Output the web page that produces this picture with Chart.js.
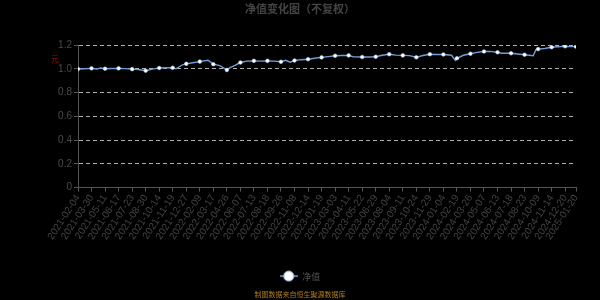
<!DOCTYPE html>
<html><head><meta charset="utf-8">
<script src="https://cdn.jsdelivr.net/npm/chart.js@4"></script>
<style>html,body{margin:0;padding:0;background:#000;}#wrap{width:600px;height:300px;}</style>
</head><body><div id="wrap"><canvas id="c" width="600" height="300"></canvas></div>
<script>
const tickLabels = ["2021-02-04","2021-03-30","2021-05-11","2021-06-17","2021-07-23","2021-08-30","2021-10-14","2021-11-19","2021-12-27","2022-02-09","2022-03-17","2022-04-26","2022-06-07","2022-07-13","2022-08-18","2022-09-26","2022-11-08","2022-12-14","2023-01-19","2023-03-03","2023-04-11","2023-05-22","2023-06-29","2023-08-04","2023-09-11","2023-10-24","2023-11-29","2024-01-04","2024-02-19","2024-03-26","2024-05-07","2024-06-13","2024-07-18","2024-08-23","2024-10-09","2024-11-14","2024-12-20","2025-01-20"];
const markerDay = [0,25,50,75,100,125,150,175,200,225,250,275,300,325,350,375,400,425,450,475,500,525,550,575,600,625,650,675,700,725,750,775,800,825,850,875,900,920];
const navDay = [0,12,25,35,42,50,62,75,88,100,112,125,140,150,162,175,181,193,200,212,225,240,250,262,275,280,290,300,312,325,337,350,362,375,383,392,400,412,425,437,450,462,475,487,500,508,525,537,550,562,575,587,600,612,625,637,650,662,675,690,697,700,712,725,737,750,762,775,782,800,812,825,841,846,850,862,875,887,900,910,920];
const navValue = [1.000,1.002,1.005,1.000,1.008,1.002,1.004,1.005,1.003,0.998,0.995,0.985,1.000,1.008,1.010,1.010,1.001,1.035,1.043,1.052,1.062,1.073,1.040,1.028,0.991,1.010,1.030,1.054,1.066,1.068,1.066,1.068,1.066,1.060,1.073,1.057,1.071,1.078,1.082,1.090,1.097,1.104,1.111,1.113,1.114,1.103,1.100,1.101,1.103,1.115,1.124,1.116,1.114,1.112,1.098,1.113,1.124,1.122,1.122,1.115,1.072,1.090,1.115,1.128,1.140,1.147,1.148,1.140,1.132,1.132,1.126,1.120,1.111,1.162,1.167,1.172,1.183,1.187,1.191,1.188,1.188];
const seriesName = "净值";
const titleText = "净值变化图（不复权）";
const footerText = "制图数据来自恒生聚源数据库";
const yAxisName = "元";

const lineColor = '#729dd6';
const points = navDay.map((d,i)=>({x:d, y:navValue[i]}));

// legend icon: line with a circle
const icon = document.createElement('canvas');
icon.width = 18; icon.height = 12;
(function(){
  const g = icon.getContext('2d');
  g.strokeStyle = lineColor; g.lineWidth = 1.5;
  g.beginPath(); g.moveTo(0,6); g.lineTo(18,6); g.stroke();
  g.beginPath(); g.arc(9,6,5,0,Math.PI*2);
  g.fillStyle = '#fff'; g.fill();
  g.strokeStyle = '#a9c6ee'; g.lineWidth = 1; g.stroke();
})();

const yNamePlugin = {
  id: 'yName',
  afterDraw(chart){
    const ctx = chart.ctx; const a = chart.chartArea;
    ctx.save();
    ctx.fillStyle = '#a01010';
    ctx.font = '8px "Noto Sans CJK SC"';
    ctx.textAlign = 'center'; ctx.textBaseline = 'middle';
    ctx.fillText(yAxisName, a.left - 23, a.top + 14);
    ctx.restore();
  }
};

new Chart(document.getElementById('c'), {
  type: 'line',
  data: { datasets: [{
    label: seriesName,
    data: points,
    borderColor: lineColor,
    borderWidth: 1.4,
    tension: 0,
    pointRadius: ctx => markerDay.includes(ctx.raw && ctx.raw.x) ? 1.8 : 0,
    pointHoverRadius: 0,
    pointBackgroundColor: '#ffffff',
    pointBorderColor: '#c8dbf5',
    pointBorderWidth: 0.6
  }]},
  options: {
    responsive: false,
    animation: false,
    layout: { padding: { left: 0, right: 0, top: 0, bottom: 0 } },
    plugins: {
      title: { display: true, text: titleText, color: '#444', font: { family: '"Noto Sans CJK SC"', size: 11, weight: 'bold' }, padding: { top: 2, bottom: 30 } },
      subtitle: { display: true, position: 'bottom', text: footerText, color: '#b07d1a', font: { family: '"Noto Sans CJK SC"', size: 7 }, padding: { top: 0, bottom: 1 } },
      legend: { display: true, position: 'bottom',
        labels: { color: '#555', font: { family: '"Noto Sans CJK SC"', size: 9 }, usePointStyle: true, pointStyleWidth: 18, boxHeight: 12, padding: 6,
          generateLabels: (chart) => [{ text: seriesName, pointStyle: icon, fontColor: '#555', strokeStyle: lineColor, fillStyle: '#fff', lineWidth: 0, hidden: false, datasetIndex: 0 }] } },
      tooltip: { enabled: false }
    },
    scales: {
      x: {
        type: 'linear', min: 0, max: 920,
        afterBuildTicks: s => { s.ticks = markerDay.map(v => ({ value: v })); },
        afterFit: s => { s.height = 78; },
        ticks: { autoSkip: false, minRotation: 57, maxRotation: 57, color: '#444', font: { family: '"Liberation Sans"', size: 10 }, padding: 1,
          callback: (v, i) => tickLabels[i] },
        grid: { drawOnChartArea: false, drawTicks: true, tickLength: 4, color: '#555', tickColor: '#555' },
        border: { display: true, color: '#555', width: 1 }
      },
      y: {
        min: 0, max: 1.2,
        afterFit: s => { s.width = 78; },
        ticks: { stepSize: 0.2, color: '#4a4a4a', font: { family: '"Liberation Sans"', size: 10 }, padding: 2 },
        grid: { color: c => c.tick && c.tick.value === 0 ? 'rgba(0,0,0,0)' : '#b0b0b0', tickBorderDash: [], tickColor: '#555', tickLength: 4, lineWidth: 1 },
        border: { display: true, color: '#555', width: 1, dash: [4,3] }
      },
      yR: {
        position: 'right', display: true,
        afterFit: s => { s.width = 24; },
        ticks: { display: false }, grid: { display: false }, border: { display: false }
      }
    }
  },
  plugins: [yNamePlugin]
});
</script></body></html>
